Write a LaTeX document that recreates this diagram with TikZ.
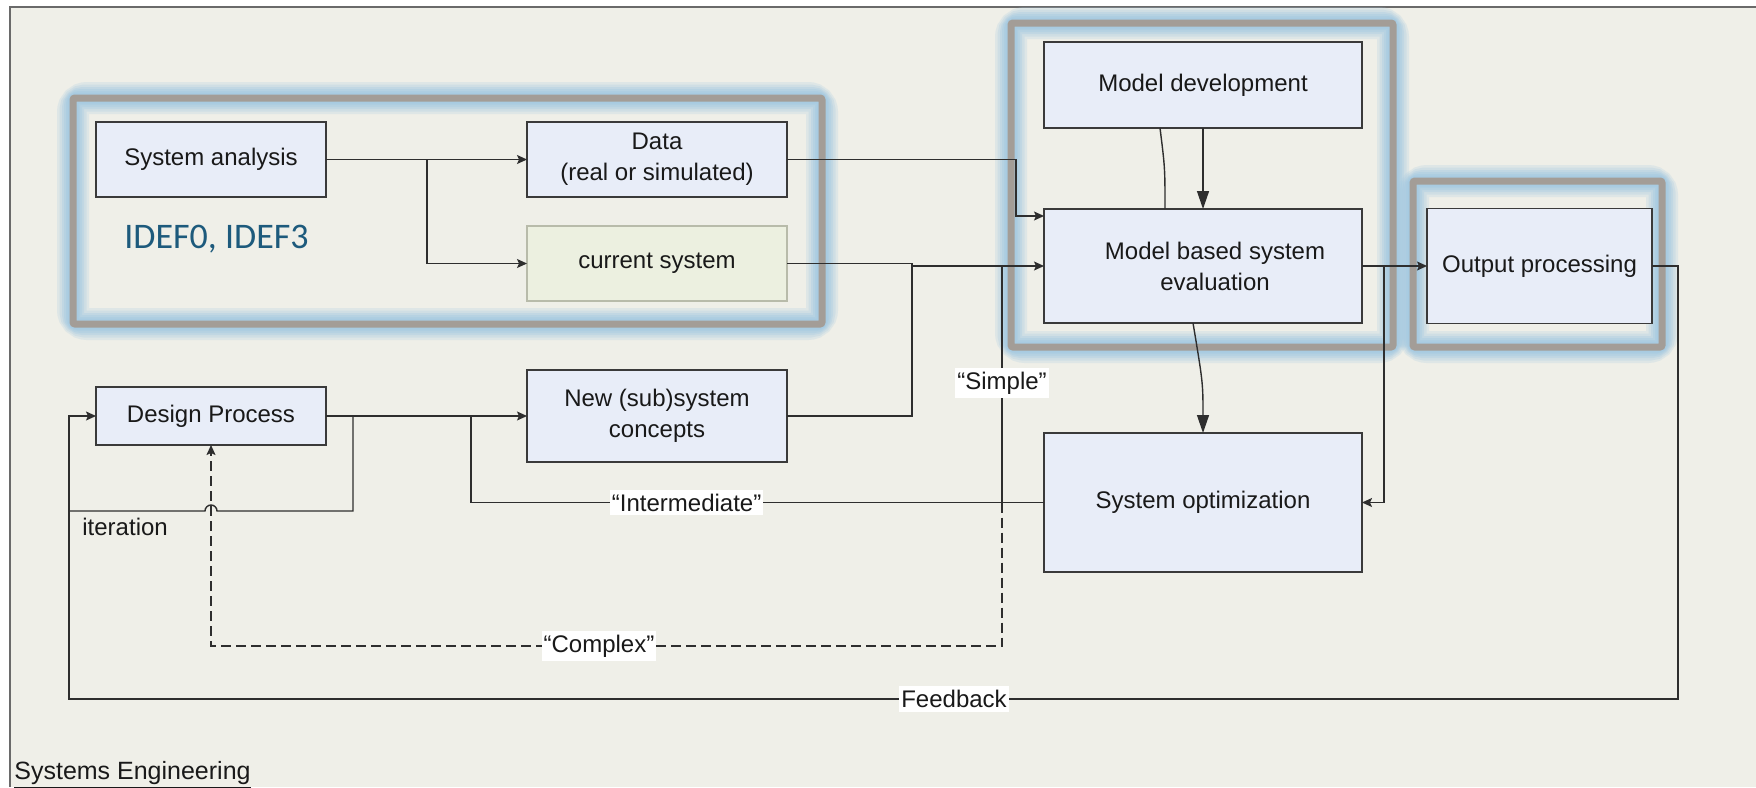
\documentclass[tikz,border=0pt]{standalone}
\usepackage{fontspec}
\setmainfont{Liberation Sans}
\newfontfamily\calib{Carlito}
\usetikzlibrary{arrows.meta,calc}
\definecolor{bgc}{HTML}{EFEFE8}
\definecolor{boxfill}{HTML}{E8EDF8}
\definecolor{boxline}{HTML}{3A3A3A}
\definecolor{curfill}{HTML}{ECF0E0}
\definecolor{curline}{HTML}{B8BBAA}
\definecolor{frameg}{HTML}{A39D97}
\definecolor{glowc}{HTML}{A3C9E1}
\definecolor{idefc}{HTML}{1D5A7C}
\definecolor{linec}{HTML}{2E2E2E}
\definecolor{borderc}{HTML}{6A6A6A}
\newcommand\grpframe[2]{%
  \draw[glowc,line width=16pt,opacity=0.22,rounded corners=7pt] #1 rectangle #2;
  \draw[glowc,line width=13.5pt,opacity=0.25,rounded corners=6pt] #1 rectangle #2;
  \draw[glowc,line width=11pt,opacity=0.3,rounded corners=5pt] #1 rectangle #2;
  \draw[glowc,line width=9pt,opacity=0.35,rounded corners=4pt] #1 rectangle #2;
  \draw[glowc,line width=7pt,opacity=0.4,rounded corners=3pt] #1 rectangle #2;
  \draw[glowc,line width=5.5pt,opacity=0.5,rounded corners=2pt] #1 rectangle #2;
  \draw[frameg,line width=3.5pt,rounded corners=1pt] #1 rectangle #2;}
\begin{document}
\begin{tikzpicture}[x=0.5pt,y=-0.5pt,
  box/.style={draw=boxline,fill=boxfill,line width=0.8pt,inner sep=0pt,outer sep=0pt,
    align=center,font=\fontsize{12}{15.5}\selectfont,text=black!90},
  conn/.style={draw=linec,line width=0.7pt},
  arr/.style={conn,-{Stealth[length=5pt,width=4.5pt,inset=1pt]}},
  bigarr/.style={conn,-{Triangle[length=9pt,width=6pt]}},
  dashline/.style={conn,dash pattern=on 5pt off 2.5pt},
  lbl/.style={fill=white,inner xsep=1pt,inner ysep=2pt,font=\fontsize{12}{14}\selectfont,text=black!90},
  plain/.style={inner sep=0pt,text=black!90}]
\useasboundingbox (0,0) rectangle (1756,787);
\fill[white] (0,0) rectangle (1756,787);
\fill[bgc] (10,7) rectangle (1756,787);
\draw[borderc,line width=0.8pt] (10,787) -- (10,7) -- (1756,7);

% group frames
\grpframe{(73,98)}{(822,324)}
\grpframe{(1011,23)}{(1393,347)}
\grpframe{(1413,181)}{(1662,347)}

% nodes
\node[box,minimum width=115pt,minimum height=37.5pt] (SA) at (211,159.5) {System analysis};
\node[box,minimum width=130pt,minimum height=37.5pt] (Data) at (657,159.5) {Data\\(real or simulated)};
\node[box,draw=curline,fill=curfill,minimum width=130pt,minimum height=37.5pt] (CS) at (657,263.5) {current system};
\node[anchor=west,inner sep=0pt,font=\calib\fontsize{18}{20}\selectfont,text=idefc] (idef) at (124,239) {IDEF0, IDEF3};
\node[box,minimum width=159pt,minimum height=43pt] (MD) at (1203,85) {Model development};
\node[box,minimum width=159pt,minimum height=57pt] (ME) at (1203,266) {\hspace*{12pt}Model based system\\\hspace*{12pt}evaluation};
\node[box,minimum width=112.5pt,minimum height=57.5pt] (OP) at (1539.5,266) {Output processing};
\node[box,minimum width=115pt,minimum height=29pt] (DP) at (211,416) {Design Process};
\node[box,minimum width=130pt,minimum height=46pt] (NC) at (657,416) {New (sub)system\\concepts};
\node[box,minimum width=159pt,minimum height=69.5pt] (SO) at (1203,502.5) {System optimization};

% coordinates
\coordinate (j1) at (427,159.5);
\coordinate (j3) at (1016,159.5);
\coordinate (j2) at (912,266);
\coordinate (j4) at (1384,266);
\coordinate (j5) at (353,416);
\coordinate (j6) at (471,416);
\coordinate (it1) at (353,511);
\coordinate (it2) at (217,511);
\coordinate (it3) at (69,511);
\coordinate (f1) at (1678,699);
\coordinate (f2) at (69,699);
\coordinate (s1) at (1002,266);
\coordinate (s2) at (1002,502.5);
\coordinate (c1) at (1002,646);
\coordinate (c2) at (211,646);

% connectors
\draw[arr] (SA.east) -- (Data.west);
\draw[arr] (j1) |- (CS.west);
\draw[arr] (Data.east) -- (j3) |- ($(ME.west)+(0,-50)$);
\draw[conn] (CS.east) -| (j2);
\draw[conn] (NC.east) -| (j2);
\draw[arr] (j2) -- (ME.west);
\draw[bigarr] (MD.south) -- (ME.north);
\draw[conn] ($(MD.south)+(-43,0)$) .. controls ($(MD.south)+(-38,40)$) .. ($(ME.north)+(-38,0)$);
\draw[bigarr] ($(ME.south)+(-10,0)$) .. controls ($(ME.south)+(0,60)$) .. (SO.north);
\draw[arr] (ME.east) -- (OP.west);
\draw[arr] (j4) |- (SO.east);
\draw[arr] (OP.east) -| (f1) -- (f2) |- (DP.west);
\node[lbl] (fb) at (954,699) {Feedback};
\draw[arr] (DP.east) -- (NC.west);
\draw[conn] (j5) -- (it1) -- (it2) arc[start angle=0,end angle=-180,radius=6] -- (it3);
\node[plain,anchor=west,font=\fontsize{12}{14}\selectfont] (itl) at (82,527) {iteration};
\draw[conn] (j6) |- (SO.west);
\node[lbl] (inter) at (686.6,502.5) {“Intermediate”};
\draw[conn] (s1) -- (s2);
\node[lbl] (simple) at (1002,383) {“Simple”};
\draw[dashline,-{Stealth[length=5pt,width=4.5pt,inset=1pt]}] (s2) -- (c1) -- (c2) -- (DP.south);
\node[lbl] (cplx) at (599,646) {“Complex”};
\node[plain,anchor=west,font=\fontsize{12.5}{15}\selectfont] (se) at (14,775) {\underline{Systems Engineering}};
\end{tikzpicture}
\end{document}
